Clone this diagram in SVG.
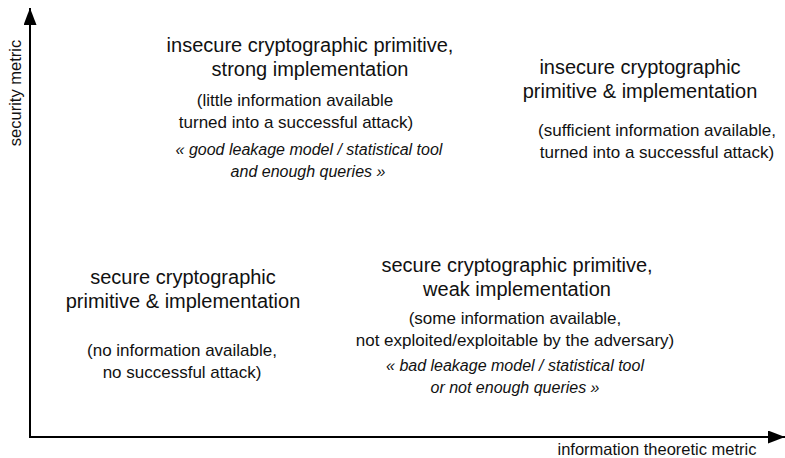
<svg xmlns="http://www.w3.org/2000/svg" width="785" height="458" viewBox="0 0 785 458">
  <style>
    text { font-family: "Liberation Sans", Arial, sans-serif; fill: #111; text-anchor: middle; }
    .h { font-size: 20px; }
    .b { font-size: 17px; }
    .i { font-size: 16px; font-style: italic; }
    .ax { font-size: 16.5px; }
    .axis { stroke: #000; stroke-width: 2; fill: none; }
  </style>
  <defs>
    <marker id="arrow" markerUnits="userSpaceOnUse" markerWidth="18" markerHeight="14" refX="17" refY="6.5" orient="auto">
      <path d="M0,0 L17,6.5 L0,13 z" fill="#000"/>
    </marker>
  </defs>
  <rect width="785" height="458" fill="#fff"/>
  <g id="connectors">
    <line class="axis" x1="30" y1="438" x2="30" y2="8" marker-end="url(#arrow)"/>
    <line class="axis" x1="29" y1="437" x2="785" y2="437" marker-end="url(#arrow)"/>
  </g>
  <g id="axis-y-label">
    <text class="ax" transform="translate(21,93) rotate(-90)">security metric</text>
  </g>
  <g id="axis-x-label">
    <text class="ax" x="657" y="455">information theoretic metric</text>
  </g>
  <g id="top-left">
    <text class="h" x="310" y="52">insecure cryptographic primitive,</text>
    <text class="h" x="310" y="76">strong implementation</text>
    <text class="b" x="295" y="106">(little information available</text>
    <text class="b" x="296" y="128">turned into a successful attack)</text>
    <text class="i" x="309" y="155">« good leakage model / statistical tool</text>
    <text class="i" x="308" y="177">and enough queries »</text>
  </g>
  <g id="top-right">
    <text class="h" x="640" y="74">insecure cryptographic</text>
    <text class="h" x="640" y="98">primitive &amp; implementation</text>
    <text class="b" x="657" y="136">(sufficient information available,</text>
    <text class="b" x="657" y="158">turned into a successful attack)</text>
  </g>
  <g id="bottom-left">
    <text class="h" x="183" y="284">secure cryptographic</text>
    <text class="h" x="183" y="308">primitive &amp; implementation</text>
    <text class="b" x="182" y="356">(no information available,</text>
    <text class="b" x="182" y="378">no successful attack)</text>
  </g>
  <g id="bottom-right">
    <text class="h" x="517" y="272">secure cryptographic primitive,</text>
    <text class="h" x="517" y="296">weak implementation</text>
    <text class="b" x="515" y="324">(some information available,</text>
    <text class="b" x="515" y="346">not exploited/exploitable by the adversary)</text>
    <text class="i" x="515" y="371">« bad leakage model / statistical tool</text>
    <text class="i" x="515" y="393">or not enough queries »</text>
  </g>
</svg>
